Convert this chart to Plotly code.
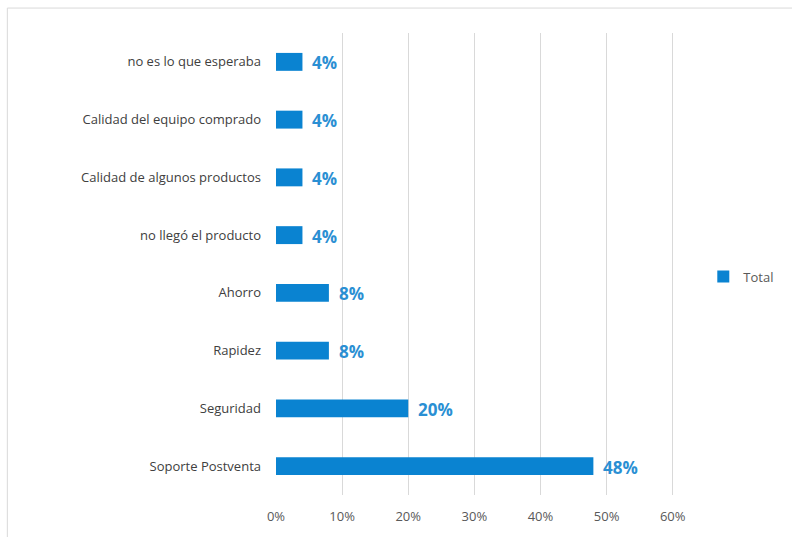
import plotly.graph_objects as go

categories = [
    "Soporte Postventa",
    "Seguridad",
    "Rapidez",
    "Ahorro",
    "no llegó el producto",
    "Calidad de algunos productos",
    "Calidad del equipo comprado",
    "no es lo que esperaba",
]
values = [0.48, 0.20, 0.08, 0.08, 0.04, 0.04, 0.04, 0.04]
tick_vals = [0, 0.1, 0.2, 0.3, 0.4, 0.5, 0.6]
tick_text = ["0%", "10%", "20%", "30%", "40%", "50%", "60%"]

bar_color = "#0A83D1"
label_color = "#2A8FD3"
frame_color = "#D9D9D9"

fig = go.Figure()
fig.add_trace(go.Bar(
    y=categories,
    x=values,
    orientation="h",
    name="Total",
    marker=dict(color=bar_color, line=dict(width=0)),
))

# value labels to the right of each bar
for cat, v in zip(categories, values):
    fig.add_annotation(
        x=v, y=cat, xref="x", yref="y",
        text=f"<b>{round(v * 100)}%</b>",
        showarrow=False, xanchor="left", yanchor="middle",
        xshift=8, yshift=-1,
        font=dict(family="Open Sans", size=17, color=label_color),
    )

fig.update_layout(
    width=792,
    height=537,
    margin=dict(l=276, r=112, t=33, b=42, autoexpand=False),
    paper_bgcolor="white",
    plot_bgcolor="white",
    bargap=0.69,
    showlegend=True,
    legend=dict(
        xref="container", yref="container",
        x=0.888, y=0.485, xanchor="left", yanchor="middle",
        font=dict(family="Open Sans", size=13, color="#595959"),
        itemwidth=30,
    ),
    xaxis=dict(
        range=[0, 0.611],
        tickvals=tick_vals,
        ticktext=tick_text,
        showgrid=True,
        gridcolor=frame_color,
        gridwidth=1,
        zeroline=False,
        showline=False,
        ticks="",
        tickfont=dict(family="Open Sans", size=13, color="#595959"),
        ticklabelstandoff=12,
    ),
    yaxis=dict(
        categoryorder="array",
        categoryarray=categories,
        showgrid=False,
        showline=False,
        ticks="",
        tickfont=dict(family="Open Sans", size=13, color="#404040"),
        ticklabelstandoff=14,
    ),
    shapes=[
        # chart frame: top and left edges
        dict(type="line", xref="paper", yref="paper",
             x0=-0.665, x1=1.3, y0=1.054, y1=1.054,
             line=dict(color=frame_color, width=1)),
        dict(type="line", xref="paper", yref="paper",
             x0=-0.665, x1=-0.665, y0=1.054, y1=-0.1,
             line=dict(color=frame_color, width=1)),
    ],
)

fig.write_html("out.html")
